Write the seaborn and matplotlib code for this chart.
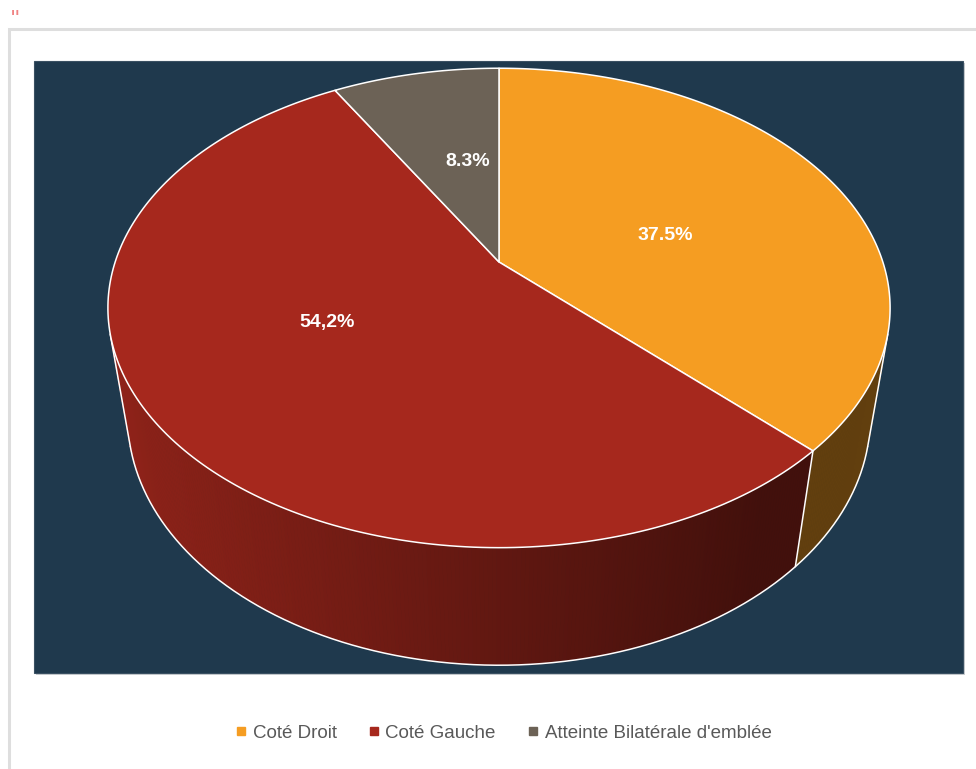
import numpy as np
import matplotlib
matplotlib.use("Agg")
import matplotlib.pyplot as plt
import seaborn as sns
from matplotlib.patches import Polygon, Rectangle
from matplotlib.lines import Line2D

# Data
categories = ["Coté Droit", "Coté Gauche", "Atteinte Bilatérale d'emblée"]
shares = [37.5, 54.2, 8.3]
value_labels = ["37.5%", "54,2%", "8.3%"]
slice_colors = ["#F59D22", "#A6281D", "#6C6256"]

sns.set_theme(style="white")
plt.rcParams["font.family"] = ["Liberation Sans", "DejaVu Sans"]

W, H = 976, 769
fig = plt.figure(figsize=(W / 100, H / 100), dpi=100)
fig.patch.set_facecolor("white")
ax = fig.add_axes([0, 0, 1, 1])
ax.set_xlim(0, W)
ax.set_ylim(H, 0)
ax.axis("off")

# Outer frame and dark plot area
ax.add_patch(Rectangle((9, 29), W + 20, H, facecolor="white",
                       edgecolor="#DEDEDE", lw=2.2, zorder=0))
ax.add_patch(Rectangle((36, 63), 929, 612, facecolor="#C9CDD1",
                       edgecolor="none", zorder=0.5))
ax.add_patch(Rectangle((34, 61), 929, 612, facecolor="#1F394D",
                       edgecolor="#3A5062", lw=0.8, zorder=1))
ax.text(15, 21, '"', color="#F08484", fontsize=17, ha="center", va="center")

# 3D pie camera
ELEV = np.radians(36.2)
SN, CS = np.sin(ELEV), np.cos(ELEV)
DIST = 4.21
FX, FY = 1616, 1646
CX, CY = 499, 262
THICK = 0.367


def project(alpha_deg, level, r=1.0):
    a = np.radians(alpha_deg)
    x3 = r * np.sin(a)
    z3 = -r * np.cos(a)
    depth = DIST - level * SN - z3 * CS
    up = level * CS - z3 * SN
    return CX + FX * x3 / depth, CY - FY * up / depth


# Visible part of the cylinder wall
lim = np.degrees(np.arccos(-1.0 / (DIST * CS)))
vis_lo, vis_hi = lim, 360 - lim

bounds = np.concatenate([[0], np.cumsum(shares)]) / 100.0 * 360.0


def shade(hexcol, x):
    t = np.clip((x - 108) / (890 - 108), 0, 1)
    f = max(0.86 - 0.55 * t, 0.40)
    rgb = np.array(matplotlib.colors.to_rgb(hexcol))
    return tuple(rgb * f)


# Side walls
for i, col in enumerate(slice_colors):
    a1, a2 = max(bounds[i], vis_lo), min(bounds[i + 1], vis_hi)
    if a2 <= a1:
        continue
    angs = np.linspace(a1, a2, max(int((a2 - a1) * 2), 2))
    for k in range(len(angs) - 1):
        p1 = project(angs[k], 0)
        p2 = project(angs[k + 1], 0)
        p3 = project(angs[k + 1], -THICK)
        p4 = project(angs[k], -THICK)
        c = shade(col, (p1[0] + p2[0]) / 2)
        ax.add_patch(Polygon([p1, p2, p3, p4], closed=True, facecolor=c,
                             edgecolor=c, lw=0.6, zorder=2))

# White edges of the wall
edge_kw = dict(color="white", lw=1.1, zorder=3, solid_capstyle="round")
arc = np.linspace(vis_lo, vis_hi, 200)
bx, by = project(arc, -THICK)
ax.plot(bx, by, **edge_kw)
for a in [vis_lo, vis_hi] + [b for b in bounds[1:-1] if vis_lo < b < vis_hi]:
    x0, y0 = project(a, 0)
    x1, y1 = project(a, -THICK)
    ax.plot([x0, x1], [y0, y1], **edge_kw)

# Top faces
for i, col in enumerate(slice_colors):
    angs = np.linspace(bounds[i], bounds[i + 1], 200)
    px, py = project(angs, 0)
    pts = [(CX, CY)] + list(zip(px, py))
    ax.add_patch(Polygon(pts, closed=True, facecolor=col, edgecolor="white",
                         lw=1.1, joinstyle="round", zorder=4))

# Value labels
label_pos = [(665, 235), (327, 323), (468, 161)]
for txt, (lx, ly) in zip(value_labels, label_pos):
    ax.text(lx, ly, txt, color="white", fontsize=14, fontweight="bold",
            ha="center", va="center", zorder=6)

# Legend
handles = [Line2D([], [], marker="s", linestyle="", color=c, markersize=5.5)
           for c in slice_colors]
fig.legend(handles, categories, loc="center", bbox_to_anchor=(0.516, 1 - 733 / H),
           ncol=3, frameon=False, fontsize=13.5, handlelength=0.55,
           handletextpad=0.35, columnspacing=1.7, labelcolor="#595959")

fig.savefig("out.png", dpi=100, facecolor="white")
